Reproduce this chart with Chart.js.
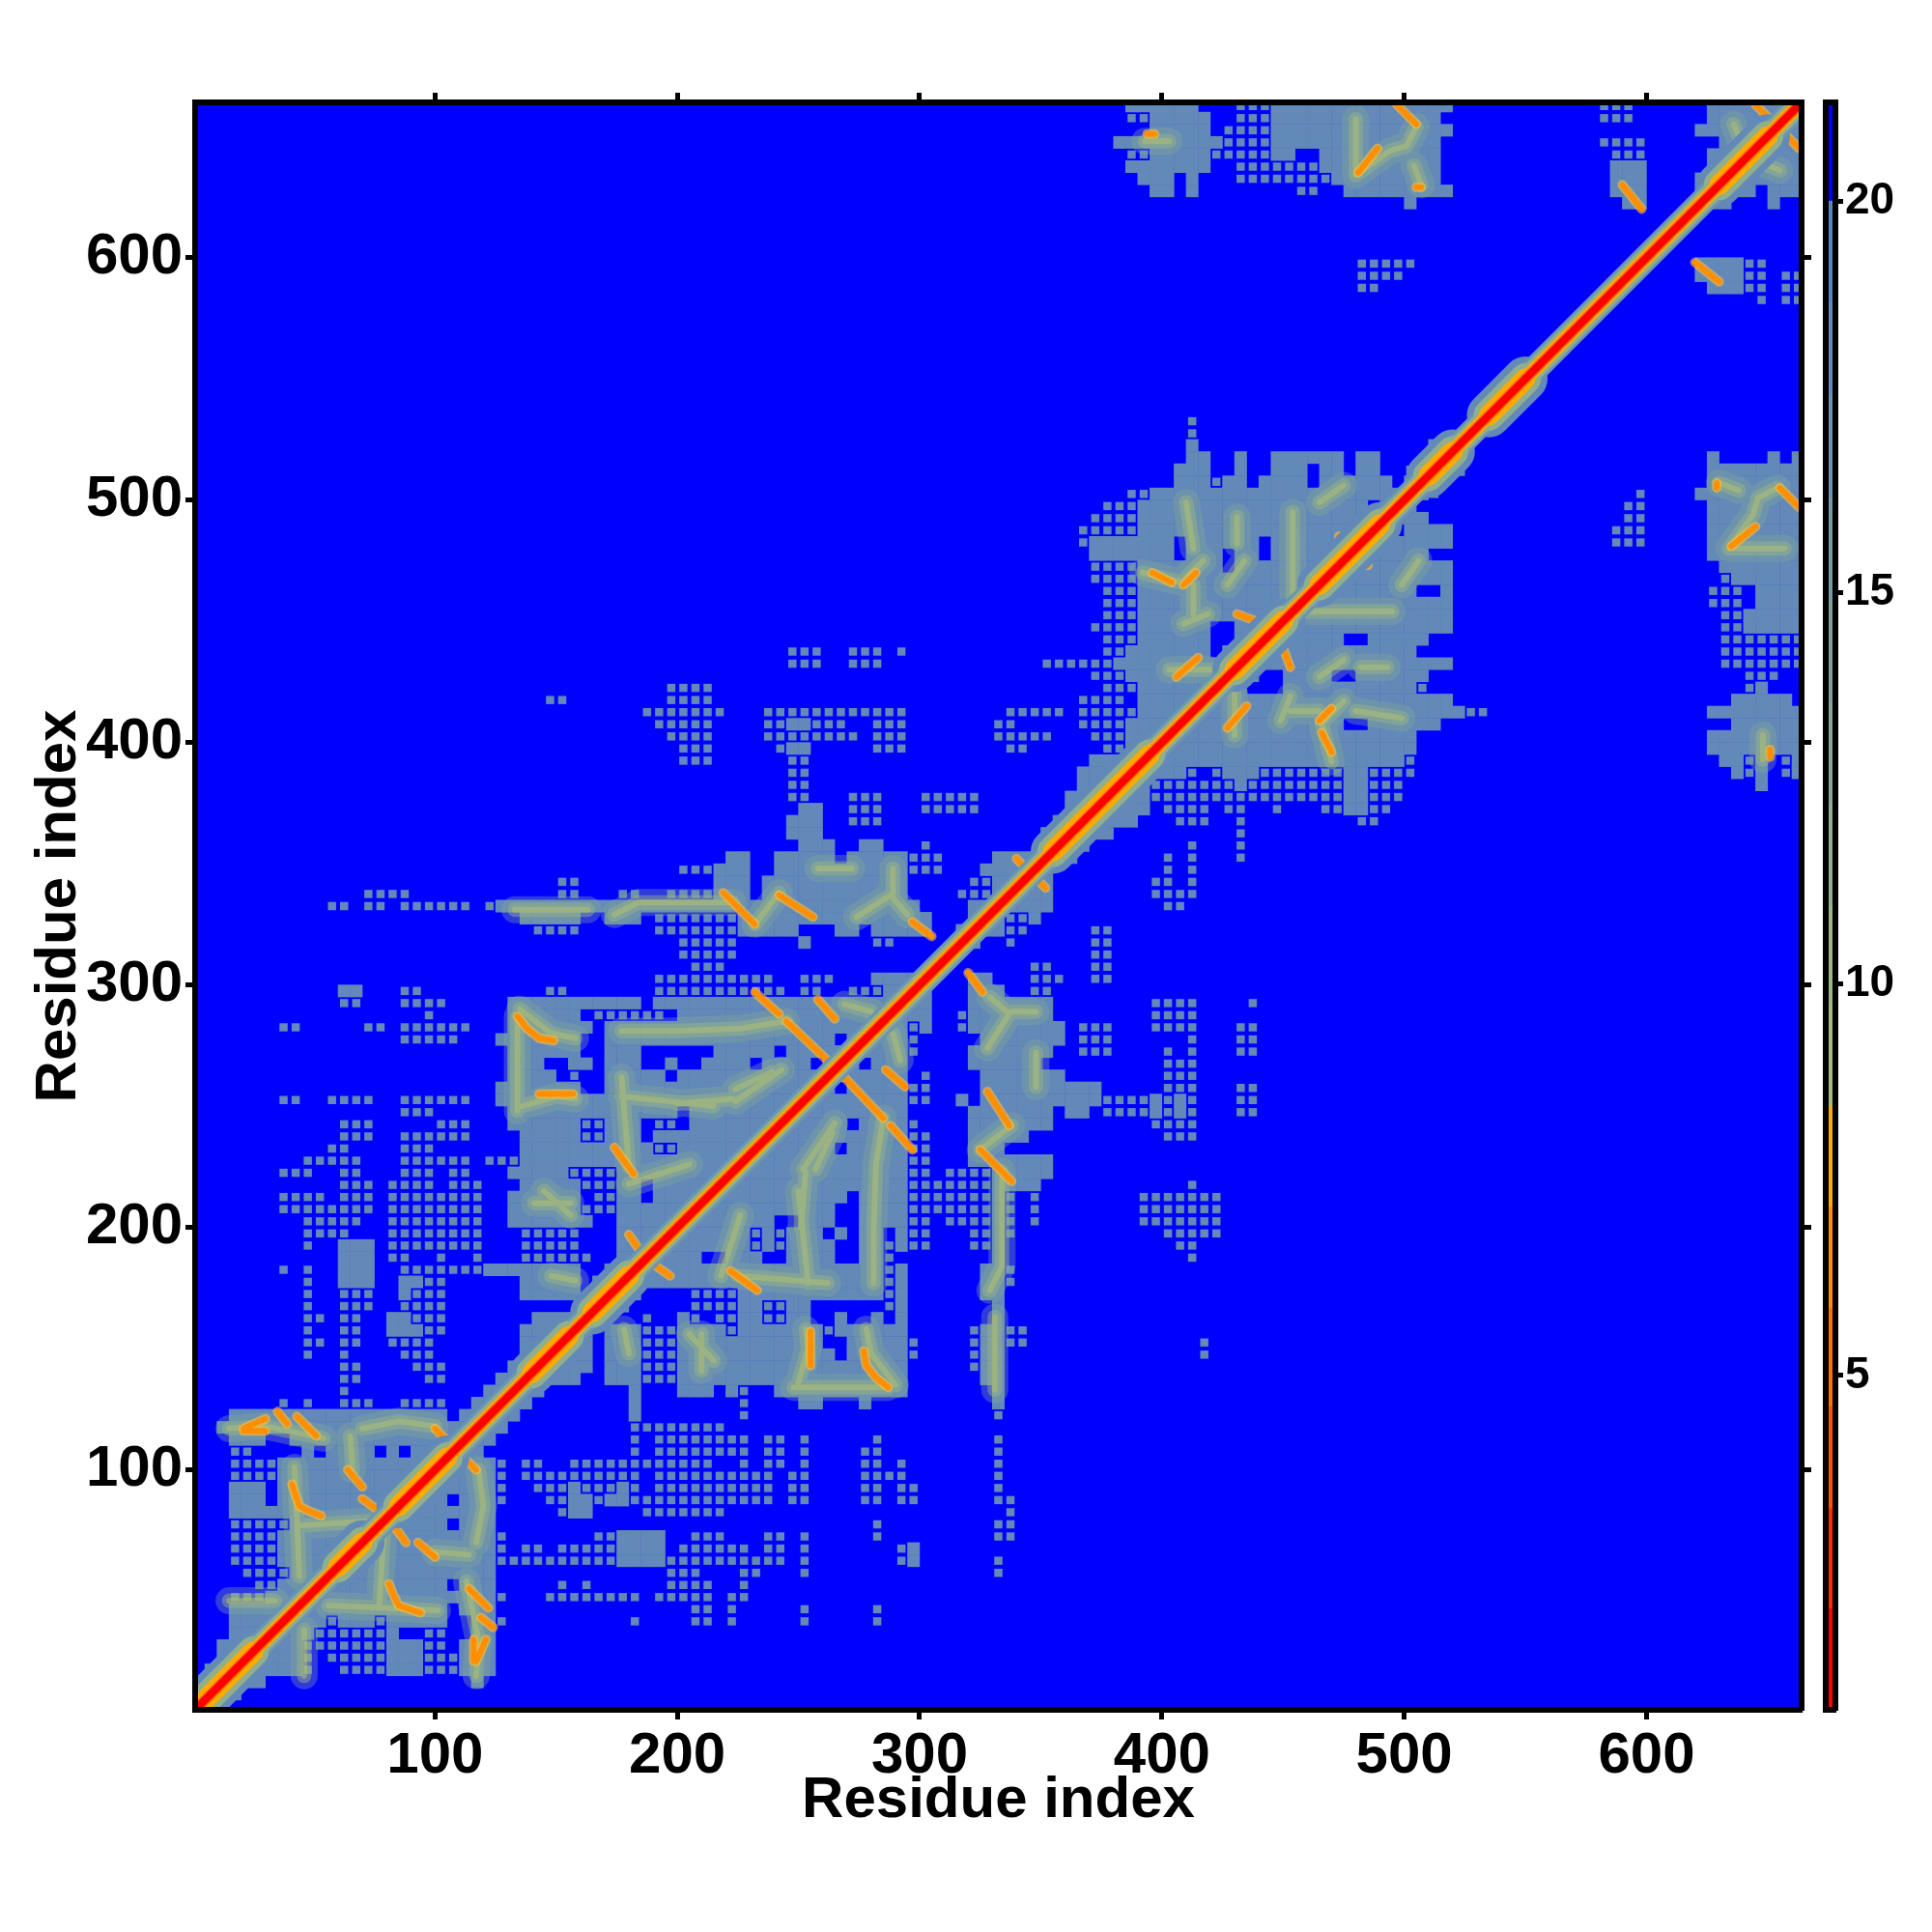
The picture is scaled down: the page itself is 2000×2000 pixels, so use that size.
<!DOCTYPE html>
<html>
<head>
<meta charset="utf-8">
<script src="https://cdn.jsdelivr.net/npm/chart.js@4"></script>
<style>
  html, body { margin: 0; background: #fff; }
  #wrap { position: relative; width: 2000px; height: 2000px; }
  #mapChart { position: absolute; left: 0; top: 0; }
  #barChart { position: absolute; left: 1880px; top: 0; }
</style>
</head>
<body>
<div id="wrap">
  <canvas id="mapChart" width="2000" height="2000"></canvas>
  <canvas id="barChart" width="120" height="2000"></canvas>
</div>
<script>
const residueMin = 1;
const residueMax = 664;
const residueTicks = [100, 200, 300, 400, 500, 600];
const distanceTicks = [5, 10, 15, 20];
const distanceEdges = [0.73, 2.02, 3.3, 4.6, 5.86, 7.15, 8.44, 9.73, 11, 12.3, 13.6, 14.9, 16.2, 17.5, 18.7, 20, 21.26];
const distanceColors = ['#ff0000', '#ff2a00', '#ff5000', '#ff7000', '#ff8f00', '#ffaa00',
  '#a2bd7b', '#99b684', '#90af8d', '#87a896', '#7ea19f', '#759aa8', '#6c93b1', '#638cba', '#5a85c3', '#0000ff'];

// "band: a-b" contacts under 20 in that 5 residue band, ~ = patchy, open end = up to the diagonal
const bandRows = [
  '5: 2-', '10: 4-', '15: 6-', '20: 10-', '25: 12-', '30: 15-', '35: 15-', '40: 18-',
  '45: 15-30~ 30-', '50: 25-35~ 38-', '55: 20-40~ 40-', '60: 17-38~ 38-', '65: 18-38~ 38-',
  '70: 18-38~ 38-', '75: 18-40~ 40-', '80: 15-', '85: 18-30 36-', '90: 18-28 35-53 58-78 82-',
  '95: 16-36~ 36-', '100: 18-35~ 35-', '105: 18-24~ 45-50 55-75 80-85 90-', '110: 17-27 43-',
  '115: 13-', '120: 15-105 112-', '125: 35-40~ 45-50~ 60-75~ 85-105~ 118-', '130: 60-65~ 122-',
  '135: 62-68~ 95-105~ 127-', '140: 62-68~ 92-105~ 131-', '145: 45-50~ 62-65~ 85-100~ 137-',
  '150: 45-52~ 62-66~ 82-100~ 137-', '155: 45-50~ 60-70~ 83-95 95-102~ 138-',
  '160: 46-52~ 60-70~ 83-90 90-103~ 143-', '165: 46-50~ 60-72~ 85-90~ 90-103~ 160-',
  '170: 45-50~ 62-72~ 85-90 92-102~ 137-160 165-', '175: 45-50~ 60-72 85-93 95-105~ 137-160 168-',
  '180: 35-38~ 45-50~ 60-72 85-120~ 122-160 172-', '185: 60-72 83-88~ 100-105~ 115-120~ 137-165~ 176-',
  '190: 45-50~ 60-72 83-120~ 137-158~ 176-', '195: 45-65~ 83-118~ 137-158~ 176-',
  '200: 45-70~ 83-97~ 103-117~ 133-165 176-', '205: 35-72~ 80-97~ 103-120~ 131-160 160-172~ 176-',
  '210: 35-55~ 60-72~ 83-120~ 132-160 165-176~ 176-183 193-',
  '215: 60-72~ 83-97~ 105-120~ 135-160 160-176~ 176-184 192-',
  '220: 37-48~ 60-70~ 88-98~ 105-115~ 134-155 157-176~ 176-',
  '225: 45-51~ 56-67~ 85-100~ 104-114~ 120-135~ 135-',
  '230: 58-64~ 87-97~ 136-170 172-190 190-200~ 200-',
  '235: 60-73~ 87-97~ 104-113~ 135-157 160-172~ 172-',
  '240: 60-73~ 104-113~ 134-158 158-172~ 172-183 194-200~ 205-',
  '245: 85-100~ 133-', '250: 35-42~ 57-74~ 85-113~ 125-', '255: 127-160 174-',
  '260: 133-148 158-160~ 174-192 200-', '265: 133-145 158-162 174-185 195-200 212-',
  '270: 131-160 174-185 215-', '275: 85-107~ 129-160 174-', '280: 35-44~ 70-77~ 85-111~ 130-162 174-',
  '285: 95-100~ 131-160 167-192~ 200-', '290: 60-70~ 87-101~ 133-162 167-183 190-',
  '295: 62-68 88-92~ 147-155~ 190-233~ 235-245~ 250-258~ 270-285~ 285-',
  '300: 190-232~ 235-240~ 250-253~ 258-262~ 280-', '305: 207-220~', '310: 204-225~',
  '315: 204-225~ 250-254 280-288~', '320: 140-158~ 192-225~ 225-250 265-275 280-305 316-',
  '325: 137-158 174-182 190-225~ 225-305 320-',
  '330: 58-65~ 70-76~ 85-98~ 103-115~ 120-128~ 128-166 170-300 323-',
  '335: 72-76~ 84-87~ 150-158~ 178-183~ 195-213~ 216-228 235-295 315-326~ 330-',
  '340: 152-158~ 218-228 236-293 320-330~ 333-', '345: 202-212~ 218-230 242-295 298-306~ 329-',
  '350: 223-226 240-243 249-262 272-282 286-293 299-306~ 332-', '355: 250-262 276-282 300-305~ 351-',
  '360: 249-258 354-', '365: 249-258 270-283~ 357-', '370: 250-258 270-283~ 300-322~ 360-',
  '375: 248-254~ 272-283~ 302-322~ 360-', '380: 248-254~ 365-', '385: 249-254~ 369-',
  '390: 202-212~ 249-254~ 373-', '395: 202-212~ 240-246~ 249-254 280-283~ 285-292~ 335-345~ 375-387~ 388-',
  '400: 195-212~ 238-256~ 260-273~ 280-295~ 330-355~ 373-386~ 388-',
  '405: 190-213~ 239-247~ 248-255 258-270~ 280-295~ 333-340~ 367-384~ 388-',
  '410: 188-216~ 239-295~ 335-360~ 366-388~ 390-', '415: 148-152~ 195-212~ 366-378~ 381-385~ 390-',
  '420: 197-212~ 376-386~ 390-', '425: 374-389~ 389-', '430: 248-258~ 273-283~ 352-380~ 382-',
  '435: 248-258~ 273-283~ 290-294~ 375-386~ 385-391 393-420 427-', '440: 375-386~ 393-423 428-',
  '445: 372-393~ 394-', '450: 378-393~ 394-', '455: 375-392~ 393-', '460: 375-393~ 393-',
  '465: 372-392~ 392-', '470: 370-392~ 392-', '475: 372-', '480: 368-374~ 374-',
  '485: 368-392~ 394-', '490: 371-393~ 393-', '495: 376-393~ 394-', '500: 385-395~ 397-',
  '505: 409-417 420-424~ 428-435 442-460 466-476 484-494 500-',
  '510: 409-416 430-434 447-460 466-474 484-490 500-504~ 505-',
  '515: 410-417 430-433 447-473 484-488 510-', '520: 410-414 514-', '525: 411-413~', '530: 411-413~',
  '585: 482-490~', '590: 482-500~', '595: 482-503~', '620: 502-505 590-600',
  '625: 396-404 410-414 455-465~ 476-516 585-600 622-',
  '630: 393-404 410-414 432-447~ 447-470~ 470-515 588-598 622-',
  '635: 385-402 408-416 430-447~ 447-452~ 455-465~ 465-515 585-598 625-',
  '640: 388-395~ 396-402 406-416 418-426~ 430-447~ 447-452 466-514 588-596~ 628-',
  '645: 384-425 428-447~ 447-456 462-515 584-598~ 630-',
  '650: 396-406 410-416 428-447~ 447-458 462-517 624-',
  '655: 388-400~ 398-416 430-447~ 447-512 584-594~ 625-',
  '660: 388-415 430-447~ 447-516 584-594~ 626-'
];

// blue holes inside the solid parts: x0, x1, y0, y1
const gapBoxes = [[420, 430, 440, 450], [405, 410, 475, 485], [425, 430, 470, 480], [440, 445, 475, 485],
  [485, 490, 495, 500], [200, 205, 245, 250], [230, 235, 265, 270], [255, 260, 265, 270],
  [265, 270, 275, 280], [240, 245, 270, 275], [185, 190, 235, 245], [205, 210, 265, 270]];

// 10-14 ridges (pale green)
const ridgePaths = [
  [[15, 117], [30, 118], [54, 113]], [[42, 101], [43, 80], [44, 56]], [[65, 114], [66, 100]],
  [[44, 77], [60, 78], [77, 79]], [[15, 46], [34, 46]], [[70, 117], [85, 120], [100, 118]],
  [[134, 287], [134, 248]], [[135, 290], [148, 280], [158, 278]], [[136, 250], [150, 254], [158, 253]],
  [[177, 262], [180, 225]], [[177, 281], [200, 281], [226, 282], [245, 285]], [[200, 251], [223, 253]],
  [[177, 254], [215, 250]], [[180, 218], [205, 226]], [[224, 257], [239, 264]], [[224, 252], [243, 265]],
  [[269, 292], [280, 289]], [[145, 215], [156, 205]], [[141, 210], [156, 210]], [[148, 180], [158, 178]],
  [[133, 331], [163, 331]], [[174, 329], [184, 334], [223, 334]], [[274, 328], [288, 337], [295, 329]],
  [[232, 325], [242, 338]], [[289, 348], [289, 337]], [[258, 348], [272, 348]],
  [[410, 499], [413, 480]], [[392, 470], [408, 466], [417, 475]], [[413, 465], [413, 453]],
  [[409, 449], [419, 453]], [[427, 465], [434, 475]], [[431, 493], [431, 482]], [[454, 495], [454, 453]],
  [[465, 499], [475, 506]], [[403, 430], [420, 430]],
  [[505, 654], [501, 646], [494, 644], [480, 634]], [[504, 638], [507, 630]], [[480, 657], [480, 634]],
  [[393, 648], [403, 648]], [[636, 655], [640, 645]]
];

// under 8 contacts off the diagonal (orange)
const contactPaths = [
  [[35, 124], [39, 119]], [[43, 122], [51, 114]], [[21, 117], [30, 121]], [[41, 94], [44, 85], [48, 83], [53, 81]],
  [[70, 88], [77, 83]], [[64, 100], [70, 93]], [[100, 117], [109, 108]], [[21, 116], [30, 116]],
  [[180, 197], [187, 187]], [[134, 287], [138, 282], [143, 278], [149, 277]], [[143, 255], [157, 255]],
  [[174, 233], [182, 222]], [[232, 297], [242, 288]], [[245, 285], [265, 266]], [[258, 294], [265, 286]],
  [[219, 338], [232, 325]], [[242, 337], [256, 328]], [[297, 326], [305, 320]], [[340, 352], [346, 346]],
  [[406, 427], [415, 435]], [[396, 470], [404, 466]], [[409, 465], [414, 470]], [[431, 453], [439, 450]],
  [[473, 485], [479, 479]], [[497, 663], [505, 655]], [[394, 651], [397, 651]], [[481, 635], [489, 645]],
  [[590, 630], [598, 620]], [[645, 663], [654, 654]], [[505, 629], [507, 629]]
];

// stretches where the band round the diagonal is wider
const helixRanges = [[3, 25], [60, 70], [85, 105], [140, 155], [165, 180], [355, 395], [430, 450], [465, 490], [510, 520], [535, 550], [630, 650]];

function buildCells(){
  const cells = new Map();
  bandRows.forEach(row => {
    const parts = row.split(': ');
    const y0 = Number(parts[0]);
    parts[1].split(' ').forEach(run => {
      const patchy = run.endsWith('~');
      const ends = run.replace('~', '').split('-');
      const from = Math.floor(Number(ends[0]) / 5) * 5;
      const to = ends[1] === '' ? y0 + 5 : Math.min(Number(ends[1]), y0 + 5);
      for (let x0 = from; x0 < to; x0 += 5) {
        const key = x0 + ',' + y0;
        if (!patchy || !cells.has(key)) cells.set(key, patchy);
      }
    });
  });
  gapBoxes.forEach(box => {
    for (let x0 = box[0]; x0 < box[1]; x0 += 5) {
      for (let y0 = box[2]; y0 < box[3]; y0 += 5) cells.delete(x0 + ',' + y0);
    }
  });
  const solid = [];
  const patchy = [];
  cells.forEach((isPatchy, key) => {
    const xy = key.split(',').map(Number);
    const target = isPatchy ? patchy : solid;
    target.push({x: xy[0] + 2.5, y: xy[1] + 2.5});
    target.push({x: xy[1] + 2.5, y: xy[0] + 2.5});
  });
  return {solid, patchy};
}

function pathPoints(paths){
  const points = [];
  paths.forEach(path => {
    path.forEach(p => points.push({x: p[0], y: p[1]}));
    points.push({x: NaN, y: NaN});
    path.forEach(p => points.push({x: p[1], y: p[0]}));
    points.push({x: NaN, y: NaN});
  });
  return points;
}

function lineLayer(data, color, width, cap){
  return {data, showLine: true, pointRadius: 0, borderColor: color, borderWidth: width,
    borderCapStyle: cap || 'butt', borderJoinStyle: 'round', spanGaps: false};
}

const cellData = buildCells();
const diagonal = [{x: residueMin, y: residueMin}, {x: residueMax, y: residueMax}];
const helixPoints = [];
helixRanges.forEach(r => {
  helixPoints.push({x: r[0], y: r[0]}, {x: r[1], y: r[1]}, {x: NaN, y: NaN});
});
const ridgeData = pathPoints(ridgePaths);
const contactData = pathPoints(contactPaths);

// in paint order, reversed below as chart.js paints the first dataset last
const layers = [
  {data: cellData.patchy, pointStyle: 'rect', pointRadius: 6, pointBorderWidth: 0, backgroundColor: '#6289b8', showLine: false},
  {data: cellData.solid, pointStyle: 'rect', pointRadius: 9.2, pointBorderWidth: 0, backgroundColor: '#6289b8', showLine: false},
  lineLayer(ridgeData, 'rgba(135, 168, 150, 0.35)', 28, 'round'),
  lineLayer(ridgeData, 'rgba(153, 182, 132, 0.45)', 15, 'round'),
  lineLayer(ridgeData, 'rgba(176, 192, 112, 0.55)', 6, 'round'),
  lineLayer(contactData, 'rgba(255, 190, 60, 0.6)', 10, 'round'),
  lineLayer(contactData, '#ff8f00', 6, 'round'),
  lineLayer(helixPoints, '#6289b8', 46, 'round'),
  lineLayer(diagonal, '#6c93b1', 27),
  lineLayer(helixPoints, '#90af8d', 32, 'round'),
  lineLayer(diagonal, '#90af8d', 21),
  lineLayer(helixPoints, '#ffaa00', 21, 'round'),
  lineLayer(diagonal, '#ffaa00', 15),
  lineLayer(diagonal, '#ff7000', 11),
  lineLayer(diagonal, '#ff0000', 8)
].reverse();

const mapFill = {
  id: 'mapFill',
  beforeDatasetsDraw(chart){
    const a = chart.chartArea;
    chart.ctx.fillStyle = distanceColors[distanceColors.length - 1];
    chart.ctx.fillRect(a.left, a.top, a.right - a.left, a.bottom - a.top);
  }
};

function setTicks(values){
  return scale => { scale.ticks = values.map(v => ({value: v})); };
}

function frameAxis(position, size, values){
  const opts = {
    type: 'linear', position, min: residueMin, max: residueMax,
    border: {display: true, color: '#000', width: 6, z: 1},
    grid: {drawOnChartArea: false, drawTicks: true, tickLength: 10, tickWidth: 5, tickColor: '#000'},
    ticks: {display: false},
    afterBuildTicks: setTicks(values)
  };
  opts.afterFit = scale => {
    if (position === 'left' || position === 'right') scale.width = size;
    else scale.height = size;
  };
  return opts;
}

const labelFont = {family: '"Liberation Sans"', weight: 'bold', size: 60};

const xMain = frameAxis('bottom', 230, residueTicks);
xMain.ticks = {display: true, color: '#000', font: labelFont, padding: 2, maxRotation: 0, autoSkip: false};
xMain.title = {display: true, text: 'Residue index', color: '#000', font: labelFont, padding: {top: 0, bottom: 100}};

const yMain = frameAxis('left', 202, residueTicks);
yMain.ticks = {display: true, color: '#000', font: labelFont, padding: 3, autoSkip: false};
yMain.title = {display: true, text: 'Residue index', color: '#000', font: labelFont, padding: {top: 25, bottom: 0}};

new Chart(document.getElementById('mapChart'), {
  type: 'scatter',
  data: {datasets: layers},
  options: {
    responsive: false,
    animation: false,
    events: [],
    layout: {padding: 0},
    plugins: {legend: {display: false}, tooltip: {enabled: false}},
    scales: {
      x: xMain,
      y: yMain,
      xTop: frameAxis('top', 106, residueTicks),
      yRight: frameAxis('right', 135, residueTicks)
    }
  },
  plugins: [mapFill]
});

// colour key
const keyDatasets = distanceColors.map((color, i) => ({
  data: [[distanceEdges[i], distanceEdges[i + 1]]],
  backgroundColor: color,
  borderWidth: 0,
  barPercentage: 1,
  categoryPercentage: 1,
  grouped: false
}));

function keyBorder(size, horizontal){
  return {
    display: true,
    border: {display: true, color: '#000', width: 6, z: 1},
    grid: {display: false},
    ticks: {display: false},
    afterFit: scale => { if (horizontal) scale.height = size; else scale.width = size; }
  };
}

new Chart(document.getElementById('barChart'), {
  type: 'bar',
  data: {labels: ['distance'], datasets: keyDatasets},
  options: {
    responsive: false,
    animation: false,
    events: [],
    layout: {padding: 0},
    plugins: {legend: {display: false}, tooltip: {enabled: false}},
    scales: {
      x: Object.assign(keyBorder(230, true), {type: 'category', position: 'bottom'}),
      xTop: Object.assign(keyBorder(106, true), {type: 'linear', position: 'top'}),
      yLeft: Object.assign(keyBorder(10, false), {type: 'linear', position: 'left', min: distanceEdges[0], max: distanceEdges[16]}),
      y: {
        type: 'linear', position: 'right',
        min: distanceEdges[0], max: distanceEdges[16],
        border: {display: true, color: '#000', width: 6, z: 1},
        grid: {drawOnChartArea: false, drawTicks: true, tickLength: 8, tickWidth: 5, tickColor: '#000'},
        ticks: {color: '#000', font: {family: '"Liberation Sans"', weight: 'bold', size: 46}, padding: 2, autoSkip: false},
        afterBuildTicks: setTicks(distanceTicks),
        afterFit: scale => { scale.width = 100; }
      }
    }
  }
});
</script>
</body>
</html>
